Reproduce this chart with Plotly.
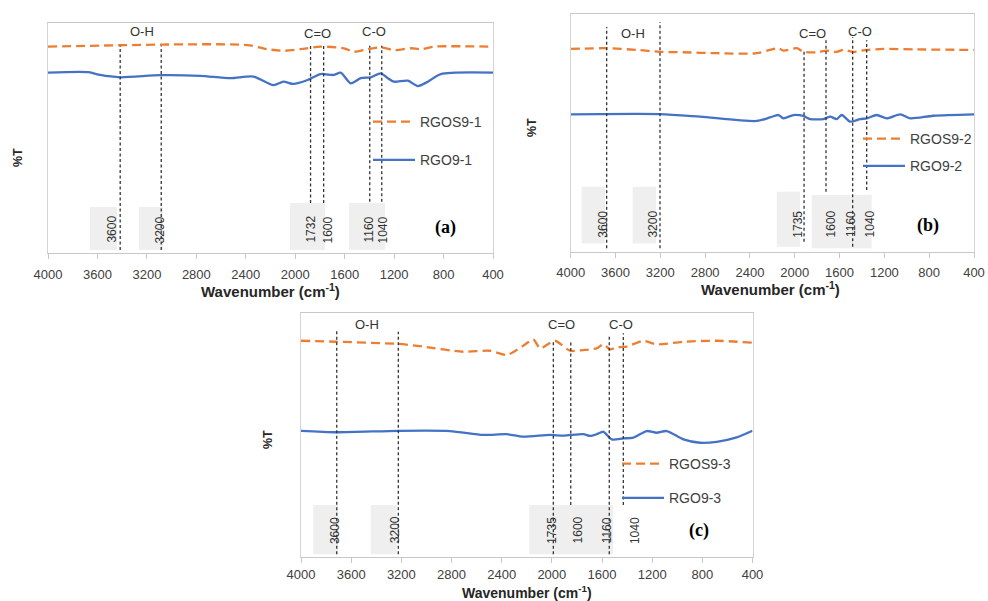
import plotly.graph_objects as go

W, H = 988, 601

# ---------------- data (wavenumber cm-1, transmittance arbitrary units) ----------------
ticks = [4000, 3600, 3200, 2800, 2400, 2000, 1600, 1200, 800, 400]

# panel (a)
wn_a_rgos = [4000, 2389, 2227, 2092, 1957, 1795, 1606, 1525, 1416, 1308, 1200, 1065, 984, 876, 400]
t_a_rgos = [89.6, 90.3, 88.5, 87.8, 88.5, 89.6, 88.9, 87.4, 88.5, 89.3, 88.1, 88.9, 88.5, 89.6, 89.6]
wn_a_rgo = [4000, 3673, 3578, 3416, 3092, 2768, 2524, 2338, 2176, 2095, 2014, 1900, 1795, 1689,
            1632, 1551, 1470, 1389, 1308, 1251, 1203, 1089, 1008, 927, 822, 400]
t_a_rgo = [78.3, 78.5, 77.3, 76.3, 77.2, 76.9, 75.9, 76.6, 72.9, 74.4, 73.4, 75.1, 77.7, 77.3,
           78.3, 73.7, 75.9, 76.3, 78.0, 75.9, 74.4, 74.8, 72.5, 74.4, 77.7, 78.3]

# panel (b)
wn_b_rgos = [4000, 3679, 3411, 3203, 2994, 2696, 2339, 2220, 2146, 2101, 1982, 1923, 1803, 1714,
             1625, 1566, 1476, 1357, 1208, 910, 400]
t_b_rgos = [85.3, 85.6, 84.9, 84.1, 83.9, 83.5, 83.5, 84.9, 85.6, 84.6, 85.6, 84.1, 83.9, 84.6,
            84.1, 84.9, 84.1, 84.9, 85.3, 85.1, 84.9]
wn_b_rgo = [4000, 3203, 2845, 2339, 2220, 2146, 2101, 2012, 1923, 1863, 1744, 1684, 1625, 1580,
            1506, 1416, 1357, 1268, 1178, 1059, 970, 762, 400]
t_b_rgo = [57.8, 57.9, 56.8, 55.0, 56.5, 57.5, 56.1, 57.5, 57.1, 55.8, 55.8, 56.8, 55.8, 57.5,
           54.7, 55.8, 56.1, 57.5, 56.1, 57.8, 56.1, 57.2, 57.8]

# panel (c)
wn_c_rgos = [4000, 3715, 3224, 3025, 2706, 2493, 2360, 2280, 2200, 2148, 2094, 2028, 1975, 1921,
             1855, 1749, 1642, 1589, 1536, 1483, 1403, 1270, 1164, 951, 685, 400]
t_c_rgos = [88.5, 88.1, 87.2, 86.1, 84.0, 84.4, 82.7, 84.7, 87.5, 89.1, 85.4, 87.2, 88.5, 86.8,
            84.4, 84.7, 85.4, 87.0, 85.0, 85.8, 86.1, 88.5, 87.0, 88.1, 88.5, 87.7]
wn_c_rgo = [4000, 3715, 3224, 2812, 2546, 2360, 2227, 2014, 1908, 1749, 1695, 1642, 1589, 1522,
            1430, 1350, 1243, 1164, 1084, 951, 818, 685, 526, 400]
t_c_rgo = [51.6, 51.0, 51.6, 51.5, 49.9, 50.2, 49.2, 49.9, 49.6, 50.2, 49.5, 50.2, 51.2, 48.1,
           48.5, 48.8, 51.5, 50.8, 51.5, 48.1, 46.7, 47.1, 48.9, 51.6]

# marker (dashed) lines and their labels
peak_lines_a = [3416, 3084, 1876, 1770, 1397, 1300]
peak_lines_b = [3679, 3203, 1917, 1721, 1483, 1358]
peak_lines_c = [3715, 3224, 1988, 1849, 1542, 1430]
peak_labels_a = ["3600", "3200", "1732", "1600", "1160", "1040"]
peak_labels_bc = ["3600", "3200", "1735", "1600", "1160", "1040"]
group_labels = ["O-H", "C=O", "C-O"]
names = [("RGOS9-1", "RGO9-1"), ("RGOS9-2", "RGO9-2"), ("RGOS9-3", "RGO9-3")]
panel_tags = ["(a)", "(b)", "(c)"]

# ---------------- layout geometry (pixels) ----------------
def px(x):
    return x / W

def py(y):
    return 1 - y / H

ORANGE = "#ED7D31"
BLUE = "#4472C4"
SANS = "Liberation Sans, Arial, sans-serif"
SERIF = "Liberation Serif, Times New Roman, serif"
GREY_TXT = "#404040"

panels = [
    dict(xa="x", ya="y", xd=(48, 493), yd=(22.7, 253),
         rgos=(wn_a_rgos, t_a_rgos), rgo=(wn_a_rgo, t_a_rgo), nm=names[0], leg="legend",
         lines=peak_lines_a, ltop=[90, 90, 90.5, 90.5, 90, 90], lbot=[1.3, 1.3, 21.7, 21.7, 22.3, 22.3],
         boxes=[(3660, 3442, 1.3, 20.0), (3264, 3070, 1.3, 20.0), (2042, 1759, 1.3, 21.7), (1565, 1274, 1.3, 21.7)],
         labx=[3490, 3094, 1880, 1735, 1411, 1290], laby=10.2, labels=peak_labels_a,
         grp=[(3240, 96.0), (1820, 95.3), (1363, 96.0)], tag=(787, 10.9),
         legpos=(368, 106), gap=17, standoff=4, tsize=15,
         title=(270, 290), ylab=(18, 158)),
    dict(xa="x2", ya="y2", xd=(570.7, 974), yd=(14, 251.7),
         rgos=(wn_b_rgos, t_b_rgos), rgo=(wn_b_rgo, t_b_rgo), nm=names[1], leg="legend2",
         lines=peak_lines_b, ltop=[94.5, 96.6, 84.5, 89, 90.3, 89], lbot=[1.5, 1.5, 4.2, 25.2, 2.1, 26],
         boxes=[(3902, 3694, 3.5, 27.3), (3447, 3239, 3.5, 27.3), (2161, 1953, 2.1, 25.2),
                (1849, 1640, 1.4, 23.9), (1640, 1313, 1.4, 23.9)],
         labx=[3709, 3263, 1968, 1676, 1492, 1328], laby=11.5, labels=peak_labels_bc,
         grp=[(3441, 91.9), (1842, 91.9), (1417, 92.6)], tag=(808, 11.2),
         legpos=(858, 123), gap=6, standoff=4, tsize=15,
         title=(770, 288), ylab=(532, 128)),
    dict(xa="x3", ya="y3", xd=(301, 752.5), yd=(312.7, 556.7),
         rgos=(wn_c_rgos, t_c_rgos), rgo=(wn_c_rgo, t_c_rgo), nm=names[2], leg="legend3",
         lines=peak_lines_c, ltop=[92.9, 92.2, 88.8, 88.1, 90.9, 91.6], lbot=[1.0, 1.0, 1.0, 21.2, 1.0, 21.2],
         boxes=[(3902, 3703, 1.0, 21.2), (3444, 3237, 1.0, 21.2), (2180, 1749, 1.0, 21.2), (1751, 1512, 1.0, 21.2)],
         labx=[3729, 3250, 2001, 1789, 1558, 1337], laby=10.9, labels=peak_labels_bc,
         grp=[(3470, 95.0), (1921, 95.0), (1450, 95.0)], tag=(826, 10.9),
         legpos=(617, 448), gap=13, standoff=1, tsize=14,
         title=(527, 592), ylab=(268, 440)),
]

fig = go.Figure()
shapes = []
annotations = []
layout = dict(width=W, height=H, margin=dict(l=0, r=0, t=0, b=0, autoexpand=False), autosize=False,
              paper_bgcolor="white", plot_bgcolor="white", showlegend=True)

for i, p in enumerate(panels):
    sfx = "" if i == 0 else str(i + 1)
    fig.add_trace(go.Scatter(x=p["rgos"][0], y=p["rgos"][1], mode="lines", name=p["nm"][0],
                             xaxis=p["xa"], yaxis=p["ya"], legend=p["leg"], legendgroup=p["nm"][0],
                             line=dict(color=ORANGE, width=2.3, dash="9px,5px", shape="spline", smoothing=0.7)))
    fig.add_trace(go.Scatter(x=p["rgo"][0], y=p["rgo"][1], mode="lines", name=p["nm"][1],
                             xaxis=p["xa"], yaxis=p["ya"], legend=p["leg"], legendgroup=p["nm"][1],
                             line=dict(color=BLUE, width=2.3, shape="spline", smoothing=0.7)))

    layout["xaxis" + sfx] = dict(domain=[px(p["xd"][0]), px(p["xd"][1])], range=[4000, 400],
                                 anchor="y" + sfx, tickvals=ticks, showline=True, mirror=True,
                                 linecolor="#c8c8c8", linewidth=1, ticks="outside", ticklen=5,
                                 tickcolor="#c8c8c8", showgrid=False, zeroline=False,
                                 tickfont=dict(family=SANS, size=13, color=GREY_TXT),
                                 ticklabelstandoff=p["standoff"])
    layout["yaxis" + sfx] = dict(domain=[py(p["yd"][1]), py(p["yd"][0])], range=[0, 100],
                                 anchor="x" + sfx, showticklabels=False, showgrid=False,
                                 zeroline=False, showline=True, mirror=True, linecolor="#d4d4d4",
                                 ticks="")
    layout[p["leg"]] = dict(x=px(p["legpos"][0]), y=py(p["legpos"][1]), xanchor="left", yanchor="top",
                            bgcolor="rgba(0,0,0,0)", tracegroupgap=p["gap"], itemwidth=42,
                            font=dict(family=SANS, size=14, color=GREY_TXT))

    for (x0, x1, y0, y1) in p["boxes"]:
        shapes.append(dict(type="rect", xref=p["xa"], yref=p["ya"], x0=x0, x1=x1, y0=y0, y1=y1,
                           fillcolor="#efefef", line=dict(width=0), layer="below"))
    for w, yt, yb in zip(p["lines"], p["ltop"], p["lbot"]):
        shapes.append(dict(type="line", xref=p["xa"], yref=p["ya"], x0=w, x1=w, y0=yb, y1=yt,
                           line=dict(color="#333333", width=1.3, dash="3px,2.5px")))
    for lx, lt in zip(p["labx"], p["labels"]):
        annotations.append(dict(xref=p["xa"], yref=p["ya"], x=lx, y=p["laby"], text=lt, showarrow=False,
                                textangle=-90, font=dict(family=SANS, size=12, color="#333333"),
                                xanchor="center", yanchor="middle"))
    for (gx, gy), gt in zip(p["grp"], group_labels):
        annotations.append(dict(xref=p["xa"], yref=p["ya"], x=gx, y=gy, text=gt, showarrow=False,
                                font=dict(family=SANS, size=13, color="#333333"),
                                xanchor="center", yanchor="middle"))
    annotations.append(dict(xref=p["xa"], yref=p["ya"], x=p["tag"][0], y=p["tag"][1], text="<b>%s</b>" % panel_tags[i],
                            showarrow=False, font=dict(family=SERIF, size=18, color="black"),
                            xanchor="center", yanchor="middle"))
    annotations.append(dict(xref="paper", yref="paper", x=px(p["title"][0]), y=py(p["title"][1]),
                            text="<b>Wavenumber (cm<sup>-1</sup>)</b>", showarrow=False,
                            font=dict(family=SANS, size=p["tsize"], color="#262626"),
                            xanchor="center", yanchor="middle"))
    annotations.append(dict(xref="paper", yref="paper", x=px(p["ylab"][0]), y=py(p["ylab"][1]),
                            text="<b>%T</b>", showarrow=False, textangle=-90,
                            font=dict(family=SANS, size=12.5, color="#262626"),
                            xanchor="center", yanchor="middle"))

layout["shapes"] = shapes
layout["annotations"] = annotations
fig.update_layout(**layout)
fig.write_html("out.html")
